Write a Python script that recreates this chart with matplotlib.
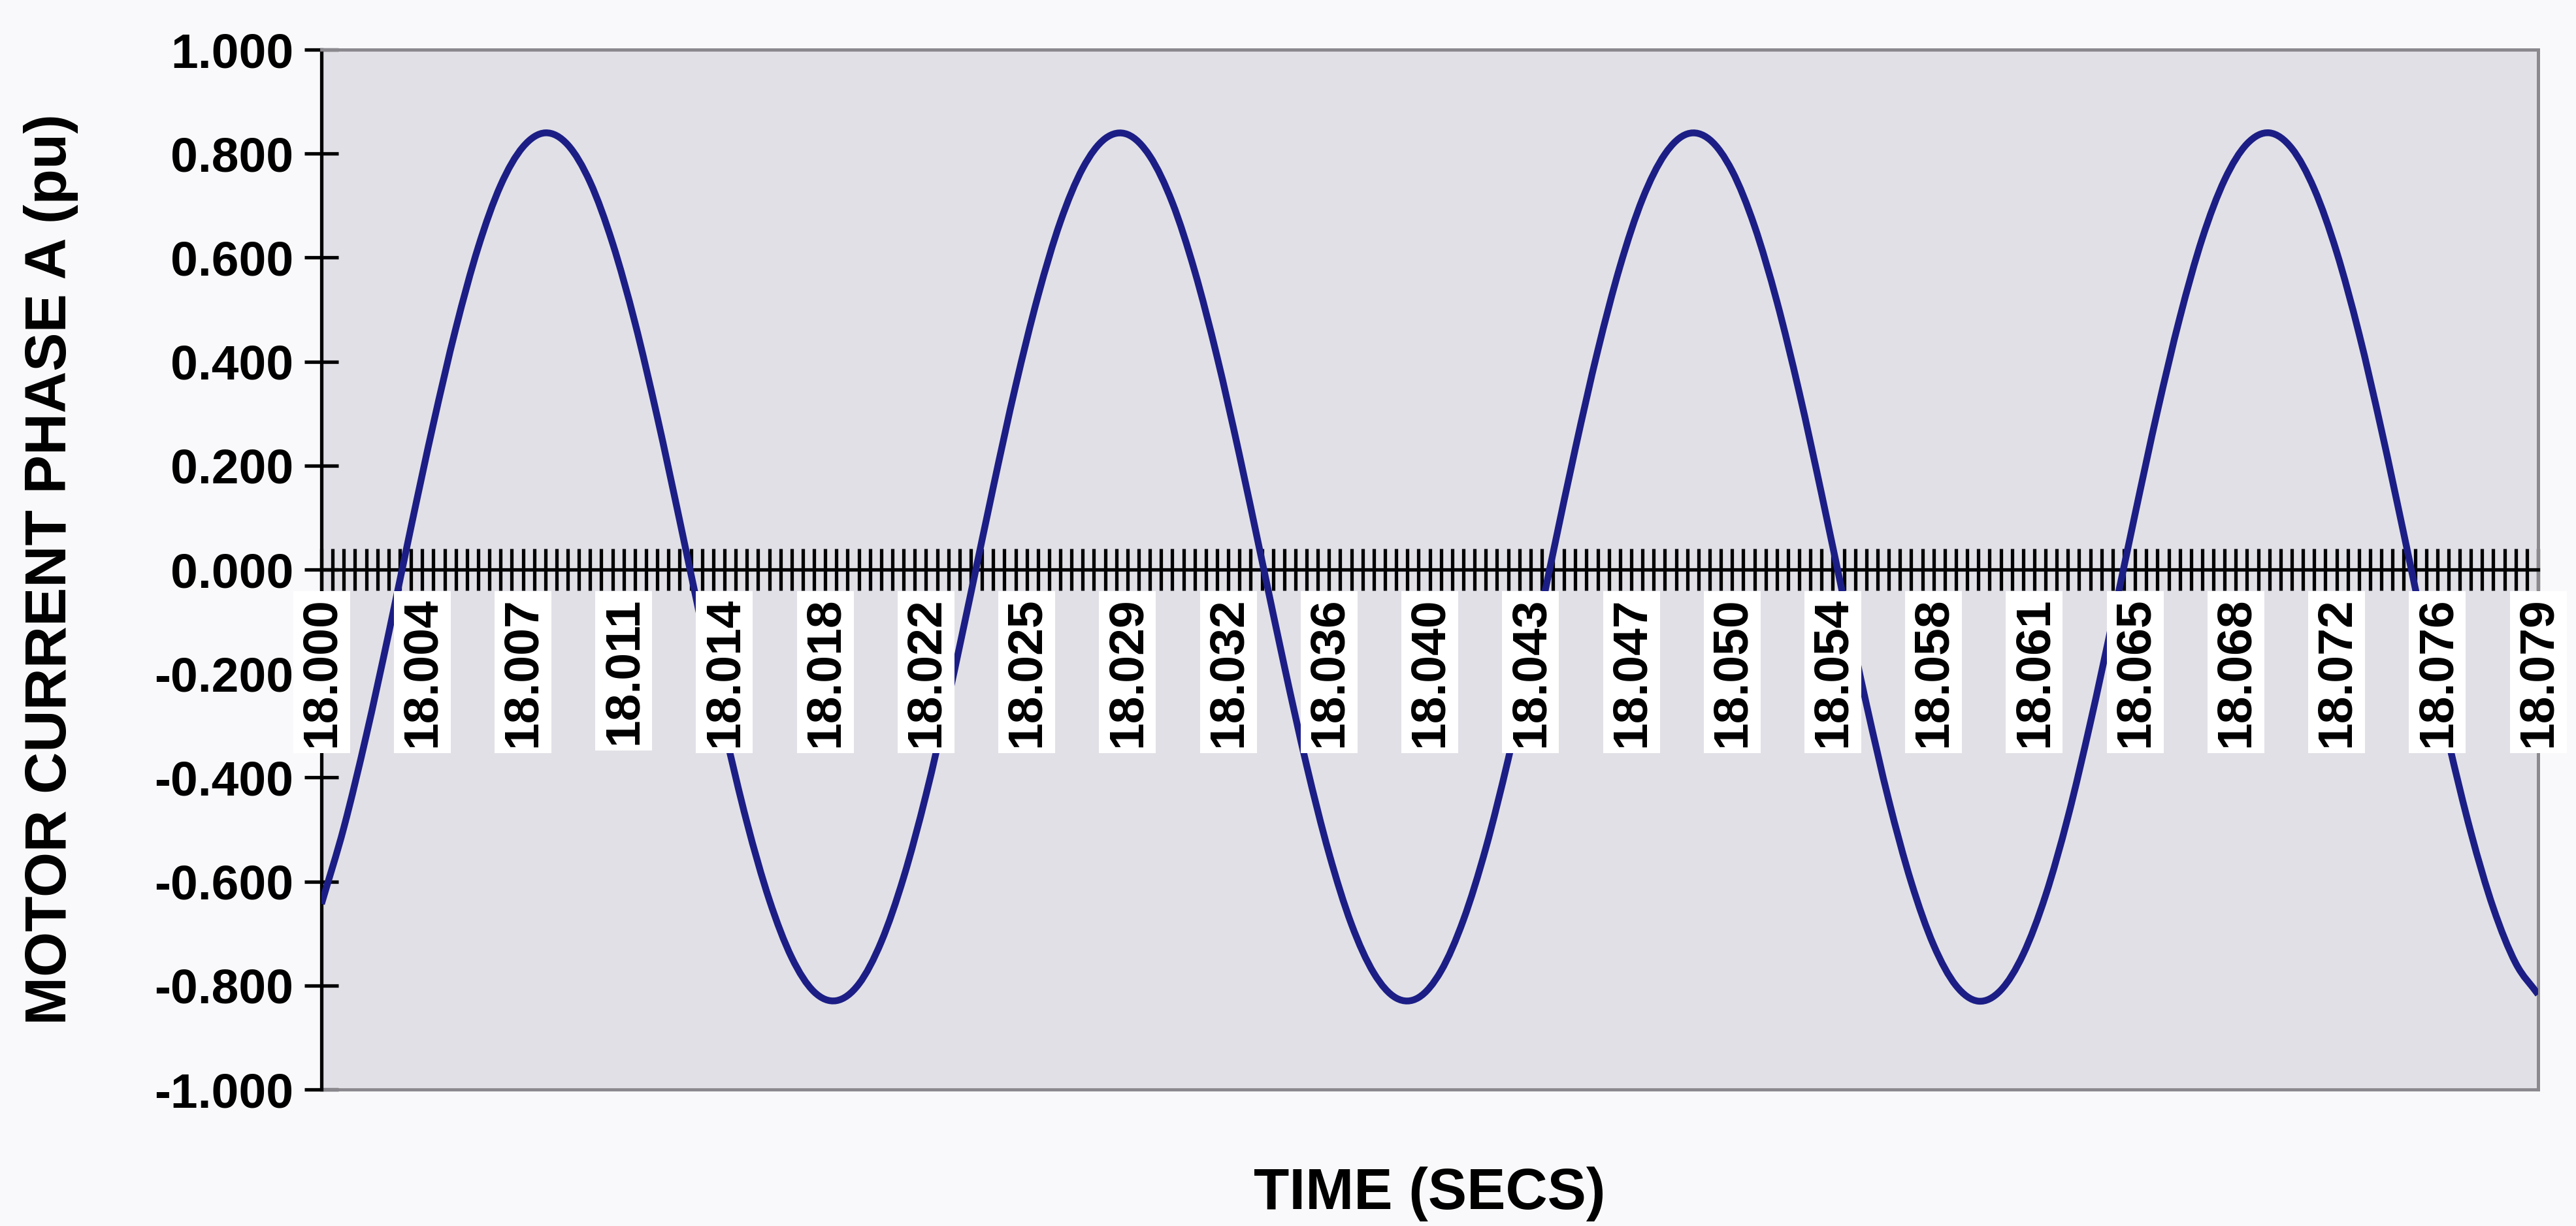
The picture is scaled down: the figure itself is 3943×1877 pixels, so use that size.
import numpy as np
import matplotlib
matplotlib.use("Agg")
import matplotlib.pyplot as plt
from matplotlib.patches import Rectangle, PathPatch
from matplotlib.path import Path
from matplotlib.transforms import offset_copy

# Motor current, phase A (per unit), one sample every 0.8 ms starting at t = 18.000 s
TIME_START = 18.000
SAMPLE_STEP = 0.0008
current_pu = [
    -0.643, -0.496, -0.319, -0.123, 0.082, 0.281, 0.464, 0.620, 0.739, 0.813,
    0.840, 0.817, 0.745, 0.628, 0.475, 0.293, 0.094, -0.110, -0.307, -0.486,
    -0.635, -0.746, -0.812, -0.829, -0.797, -0.716, -0.592, -0.433, -0.247, -0.046,
    0.158, 0.353, 0.526, 0.669, 0.772, 0.829, 0.837, 0.795, 0.706, 0.574,
    0.409, 0.220, 0.018, -0.185, -0.377, -0.546, -0.682, -0.776, -0.824, -0.823,
    -0.772, -0.674, -0.536, -0.365, -0.173, 0.031, 0.233, 0.421, 0.584, 0.713,
    0.799, 0.838, 0.827, 0.767, 0.661, 0.516, 0.341, 0.145, -0.059, -0.259,
    -0.444, -0.601, -0.722, -0.800, -0.830, -0.809, -0.740, -0.627, -0.476, -0.295,
    -0.097, 0.107, 0.305, 0.485, 0.637, 0.750, 0.819, 0.840, 0.810, 0.732,
    0.611, 0.454, 0.269, 0.069, -0.135, -0.331, -0.506, -0.651, -0.757, -0.817,
]

# Category axis: a tick mark every 0.4 ms, a label on every 9th tick
TICK_STEP = 0.0004
N_TICKS = 199
LABEL_EVERY = 9
time_labels = [
    "18.000", "18.004", "18.007", "18.011", "18.014", "18.018", "18.022", "18.025",
    "18.029", "18.032", "18.036", "18.040", "18.043", "18.047", "18.050", "18.054",
    "18.058", "18.061", "18.065", "18.068", "18.072", "18.076", "18.079",
]

y_ticks = [-1.0, -0.8, -0.6, -0.4, -0.2, 0.0, 0.2, 0.4, 0.6, 0.8, 1.0]

plt.rcParams["font.family"] = ["Liberation Sans", "DejaVu Sans"]
plt.rcParams["axes.unicode_minus"] = False


def smoothed_line(x, y):
    """Smoothed polyline through the samples (Catmull-Rom segments as cubic Beziers)."""
    pts = np.column_stack([x, y]).astype(float)
    ext = np.vstack([2 * pts[0] - pts[1], pts, 2 * pts[-1] - pts[-2]])
    verts = [pts[0]]
    codes = [Path.MOVETO]
    for i in range(len(pts) - 1):
        p0, p1, p2, p3 = ext[i], ext[i + 1], ext[i + 2], ext[i + 3]
        verts += [p1 + (p2 - p0) / 6.0, p2 - (p3 - p1) / 6.0, p2]
        codes += [Path.CURVE4] * 3
    return Path(verts, codes)


time_s = TIME_START + SAMPLE_STEP * np.arange(len(current_pu))
tick_pos = TIME_START + TICK_STEP * np.arange(N_TICKS)
label_pos = tick_pos[::LABEL_EVERY]

fig = plt.figure(figsize=(39.43, 18.77), dpi=100, facecolor="#f9f9fb")
ax = fig.add_axes([0.1248, 0.1113, 0.8605, 0.8482])
ax.set_facecolor("#e1e0e6")

ax.add_patch(PathPatch(smoothed_line(time_s, current_pu), fill=False,
                       edgecolor="#1c1e86", lw=7.5, capstyle="butt",
                       joinstyle="round", zorder=3))

ax.set_xlim(tick_pos[0], tick_pos[-1])
ax.set_ylim(-1.0, 1.0)

# Frame: black value axis, grey plot-area border, category axis crossing at zero
border = "#8b898e"
for side in ("top", "right"):
    ax.spines[side].set_color(border)
    ax.spines[side].set_linewidth(3.5)
ax.spines["left"].set_color("black")
ax.spines["left"].set_linewidth(3.8)
ax.spines["bottom"].set_position(("data", 0))
ax.spines["bottom"].set_color("black")
ax.spines["bottom"].set_linewidth(3.8)
ax.add_patch(Rectangle((0, 0), 1, 1, transform=ax.transAxes, fill=False,
                       edgecolor=border, lw=3.5, zorder=2.4, clip_on=False))

ax.set_xticks([])
ax.set_xticks(tick_pos, minor=True)
ax.tick_params(axis="x", which="minor", direction="inout", length=46, width=3.8,
               color="black", labelbottom=False)

ax.set_yticks(y_ticks, labels=[f"{v:.3f}" for v in y_ticks])
ax.tick_params(axis="y", which="major", direction="inout", length=38, width=3.8,
               color="black", pad=12, labelsize=54)
for lab in ax.get_yticklabels():
    lab.set_fontweight("bold")

# Time labels on white boxes, drawn above the trace
label_tr = offset_copy(ax.transData, fig=fig, x=0, y=-42, units="dots")
for x, s in zip(label_pos, time_labels):
    ax.text(x, 0, s, transform=label_tr, rotation=90, ha="center", va="top",
            fontsize=54, fontweight="bold", color="black", zorder=4, clip_on=False,
            bbox=dict(boxstyle="square,pad=0.12", facecolor="white", edgecolor="none"))

fig.text(0.0198, 0.5354, "MOTOR CURRENT PHASE A (pu)", rotation=90, ha="center",
         va="center", fontsize=64, fontweight="bold")
fig.text(0.5549, 0.0139, "TIME (SECS)", ha="center", va="baseline",
         fontsize=64, fontweight="bold")

fig.savefig("out.png", dpi=100, facecolor=fig.get_facecolor())
